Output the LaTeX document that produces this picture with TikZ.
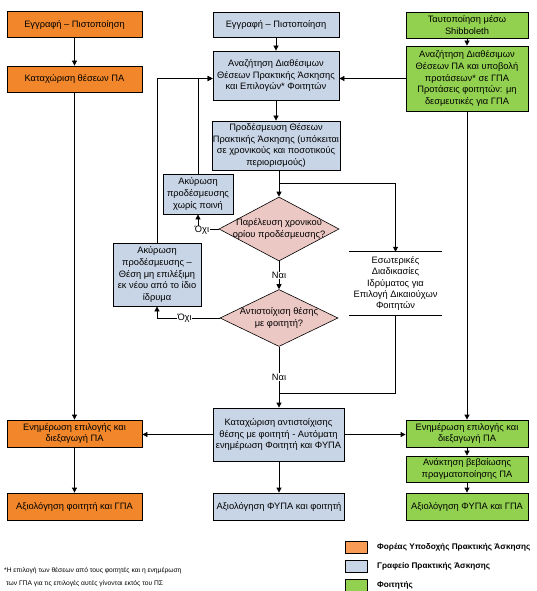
\documentclass[tikz,border=0pt]{standalone}
\usepackage{fontspec}
\setmainfont{Liberation Sans}
\usetikzlibrary{arrows.meta}
\usetikzlibrary{shapes.geometric}

\definecolor{hostorange}{RGB}{241,135,42}
\definecolor{officeblue}{RGB}{200,213,230}
\definecolor{studgreen}{RGB}{146,208,80}
\definecolor{askpink}{RGB}{236,200,196}
\definecolor{legorange}{RGB}{247,155,85}

\begin{document}
\begin{tikzpicture}[x=1pt,y=-1pt,
  every node/.style={font=\fontsize{9.3}{11.6}\selectfont, align=center, inner sep=1pt},
  obox/.style={draw, line width=0.8pt, fill=hostorange, minimum width=135pt, minimum height=26pt},
  bbox/.style={draw, line width=0.8pt, fill=officeblue},
  gbox/.style={draw, line width=0.8pt, fill=studgreen, minimum width=122pt},
  decision/.style={diamond, draw, line width=0.6pt, fill=askpink, inner sep=0pt},
  flow/.style={-{Triangle[length=5pt,width=5pt]}, line width=0.8pt},
  link/.style={line width=0.8pt},
  answer/.style={fill=white, inner sep=0.5pt},
  swatch/.style={draw, line width=0.6pt, minimum width=22pt, minimum height=12pt, inner sep=0pt}]
\useasboundingbox (0,0) rectangle (536,591);

% host organisation column
\node[obox] (oreg) at (74.5,24.5) {Εγγραφή – Πιστοποίηση};
\node[obox] (oposts) at (74.5,79) {Καταχώριση θέσεων ΠΑ};
\node[obox, minimum height=27pt] (oupdate) at (74.5,433.5) {Ενημέρωση επιλογής και\\διεξαγωγή ΠΑ};
\node[obox, minimum height=27pt] (oeval) at (74.5,506.5) {Αξιολόγηση φοιτητή και ΓΠΑ};

% office column
\node[bbox, minimum width=126pt, minimum height=25pt] (breg) at (276,24.5) {Εγγραφή – Πιστοποίηση};
\node[bbox, minimum width=126pt, minimum height=49pt] (bsearch) at (276,75.5) {Αναζήτηση Διαθέσιμων\\Θέσεων Πρακτικής Άσκησης\\και Επιλογών* Φοιτητών};
\node[bbox, minimum width=126pt, minimum height=49pt] (bprebook) at (276,145.5) {Προδέσμευση Θέσεων\\Πρακτικής Άσκησης (υπόκειται\\σε χρονικούς και ποσοτικούς\\περιορισμούς)};
\node[decision, minimum width=120pt, minimum height=64pt,
  label={center:{Παρέλευση χρονικού\\ορίου προδέσμευσης?}}] (deadline) at (279,229) {};
\node[bbox, minimum width=70pt, minimum height=40pt] (cancelfree) at (198,194) {Ακύρωση\\προδέσμευσης\\χωρίς ποινή};
\node[bbox, minimum width=88pt, minimum height=63pt] (cancelblock) at (157,274.5) {Ακύρωση\\προδέσμευσης –\\Θέση μη επιλέξιμη\\εκ νέου από το ίδιο\\ίδρυμα};
\node[decision, minimum width=118pt, minimum height=57pt,
  label={center:{Αντιστοίχιση θέσης\\με φοιτητή?}}] (match) at (279,318) {};
\node[minimum width=93pt, minimum height=63pt, font=\fontsize{9.3}{11.2}\selectfont] (internal) at (395.5,283.5) {Εσωτερικές\\Διαδικασίες\\Ιδρύματος για\\Επιλογή Δικαιούχων\\Φοιτητών};
\draw[link] (internal.north west) -- (internal.north east);
\draw[link] (internal.south west) -- (internal.south east);
\node[bbox, minimum width=131pt, minimum height=53pt] (brecord) at (278.5,434.5) {Καταχώριση αντιστοίχισης\\θέσης με φοιτητή - Αυτόματη\\ενημέρωση Φοιτητή και ΦΥΠΑ};
\node[bbox, minimum width=131pt, minimum height=27pt] (beval) at (279,506.5) {Αξιολόγηση ΦΥΠΑ και φοιτητή};

% student column
\node[gbox, minimum height=26pt] (gauth) at (467,25) {Ταυτοποίηση μέσω\\Shibboleth};
\node[gbox, minimum height=65pt] (gsearch) at (467,78.5) {Αναζήτηση Διαθέσιμων\\Θέσεων ΠΑ και υποβολή\\προτάσεων* σε ΓΠΑ\\Προτάσεις φοιτητών: μη\\δεσμευτικές για ΓΠΑ};
\node[gbox, minimum height=27pt] (gupdate) at (467,433.5) {Ενημέρωση επιλογής και\\διεξαγωγή ΠΑ};
\node[gbox, minimum height=26pt] (gcert) at (467,469) {Ανάκτηση βεβαίωσης\\πραγματοποίησης ΠΑ};
\node[gbox, minimum height=27pt] (geval) at (467,506.5) {Αξιολόγηση ΦΥΠΑ και ΓΠΑ};

\coordinate (split) at (279,183);
\coordinate (merge) at (279,393);

% connectors
\draw[flow] (oreg) -- (oposts);
\draw[flow] (oposts) -- (oupdate);
\draw[flow] (oupdate) -- (oeval);
\draw[flow] (breg) -- (bsearch);
\draw[flow] (bsearch) -- (bprebook);
\draw[link] (bprebook.south -| split) -- (split);
\draw[flow] (split) -- (deadline.north);
\draw[flow] (split) -| (internal.north);
\draw[flow] (deadline.west) -| node[answer, pos=0.5, xshift=4pt, yshift=-1.5pt] {Όχι} (cancelfree.south);
\draw[flow] (deadline.south) -- node[answer] {Ναι} (match.north);
\draw[flow] (match.west) -| node[answer, pos=0.28] {Όχι} (cancelblock.south);
\draw[flow] (match.south) -- node[answer] {Ναι} (brecord.north -| match.south);
\draw[link] (internal.south) |- (merge);
\draw[flow] (cancelfree.north) |- (bsearch.west |- gsearch.west);
\draw[flow] (cancelblock.north) |- (bsearch.west |- gsearch.west);
\draw[flow] (gsearch.west) -- (bsearch.east |- gsearch.west);
\draw[flow] (gauth) -- (gsearch);
\draw[flow] (gsearch.south) -- (gupdate.north);
\draw[flow] (gupdate) -- (gcert);
\draw[flow] (gcert) -- (geval);
\draw[flow] (brecord.west) -- (oupdate.east |- brecord.west);
\draw[flow] (brecord.east) -- (gupdate.west |- brecord.east);
\draw[flow] (brecord.south -| beval.north) -- (beval.north);

% note and legend
\node[anchor=west, align=left, font=\fontsize{6.7}{13}\selectfont] (note) at (3,577.5) {*Η επιλογή των θέσεων από τους φοιτητές και η ενημέρωση\\\ των ΓΠΑ για τις επιλογές αυτές γίνονται εκτός του ΠΣ};
\node[swatch, fill=legorange] (keyhost) at (356,547) {};
\node[swatch, fill=officeblue] (keyoffice) at (356,566) {};
\node[swatch, fill=studgreen] (keystud) at (356,585) {};
\node[anchor=west, font=\fontsize{8.2}{9}\selectfont\bfseries] at (376,547) {Φορέας Υποδοχής Πρακτικής Άσκησης};
\node[anchor=west, font=\fontsize{8.2}{9}\selectfont\bfseries] at (376,566) {Γραφείο Πρακτικής Άσκησης};
\node[anchor=west, font=\fontsize{8.2}{9}\selectfont\bfseries] at (376,585) {Φοιτητής};
\end{tikzpicture}
\end{document}
